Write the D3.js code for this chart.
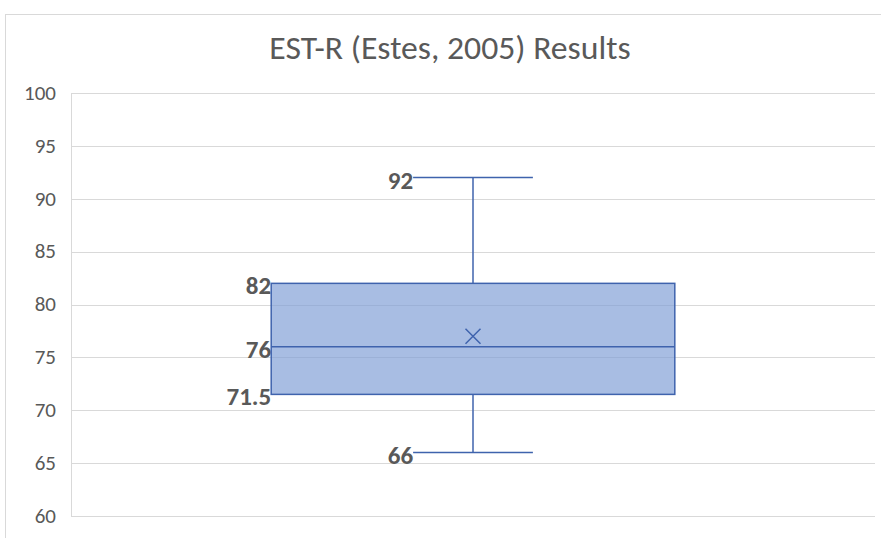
<!DOCTYPE html>
<html><head><meta charset="utf-8">
<script src="https://cdn.jsdelivr.net/npm/d3@7"></script>
<style>body{margin:0;background:#fff;} text{font-family:Carlito,Calibri,Lato,"Open Sans","Liberation Sans",sans-serif;}</style>
</head><body>
<svg id="c" width="881" height="538"></svg>
<script>
const categories = ["EST-R"];
const minValues = [66];
const q1Values = [71.5];
const medianValues = [76];
const q3Values = [82];
const maxValues = [92];
const meanValues = [77];
const yTicks = [60,65,70,75,80,85,90,95,100];

const FONT = 'Carlito,Calibri,Lato,"Open Sans","Liberation Sans",sans-serif';
const svg = d3.select("#c");
svg.append("rect").attr("x",5.5).attr("y",14.5).attr("width",900).attr("height",600)
  .attr("fill","#fff").attr("stroke","#d9d9d9").attr("stroke-width",1);

svg.append("text").attr("x",450).attr("y",59).attr("text-anchor","middle")
  .attr("font-size",33.7).attr("fill","#595959").text("EST-R (Estes, 2005) Results");

const m = {l:71, r:875, t:93, b:516};
const y = d3.scaleLinear().domain([60,100]).range([m.b,m.t]);
const x = d3.scaleBand().domain(categories).range([m.l,m.r]);

const g = svg.append("g");
g.selectAll("line.grid").data(yTicks).join("line")
  .attr("x1",m.l).attr("x2",m.r).attr("y1",d=>Math.round(y(d))+0.5).attr("y2",d=>Math.round(y(d))+0.5)
  .attr("stroke","#d9d9d9").attr("stroke-width",1);
g.append("line").attr("x1",m.l+0.5).attr("x2",m.l+0.5).attr("y1",m.t).attr("y2",m.b)
  .attr("stroke","#d9d9d9");

const yAxis = svg.append("g").attr("transform",`translate(${m.l},0)`)
  .call(d3.axisLeft(y).tickValues(yTicks).tickSize(0).tickPadding(15));
yAxis.select(".domain").remove();
yAxis.selectAll("text").attr("font-size",21).attr("fill","#595959").attr("dy","0.3em")
  .style("font-family",FONT);

const stroke = "#3f63ad";
const data = categories.map((c,i)=>({c, min:minValues[i], q1:q1Values[i], med:medianValues[i], q3:q3Values[i], max:maxValues[i], mean:meanValues[i]}));

const bw = x.bandwidth()*0.502;
const capW = x.bandwidth()*0.149;
data.forEach(d=>{
  const cx = x(d.c)+x.bandwidth()/2;
  const gg = svg.append("g");
  gg.append("line").attr("x1",cx).attr("x2",cx).attr("y1",y(d.max)).attr("y2",y(d.q3)).attr("stroke",stroke).attr("stroke-width",1.5);
  gg.append("line").attr("x1",cx).attr("x2",cx).attr("y1",y(d.q1)).attr("y2",y(d.min)).attr("stroke",stroke).attr("stroke-width",1.5);
  gg.append("line").attr("x1",cx-capW/2).attr("x2",cx+capW/2).attr("y1",y(d.max)).attr("y2",y(d.max)).attr("stroke",stroke).attr("stroke-width",1.5);
  gg.append("line").attr("x1",cx-capW/2).attr("x2",cx+capW/2).attr("y1",y(d.min)).attr("y2",y(d.min)).attr("stroke",stroke).attr("stroke-width",1.5);
  gg.append("rect").attr("x",cx-bw/2).attr("y",y(d.q3)).attr("width",bw).attr("height",y(d.q1)-y(d.q3))
    .attr("fill","#7f9dd6").attr("fill-opacity",0.68).attr("stroke",stroke).attr("stroke-width",1.5);
  gg.append("line").attr("x1",cx-bw/2).attr("x2",cx+bw/2).attr("y1",y(d.med)).attr("y2",y(d.med)).attr("stroke",stroke).attr("stroke-width",1.5);
  const my = y(d.mean), s=7.5;
  gg.append("path").attr("d",`M${cx-s},${my-s}L${cx+s},${my+s}M${cx-s},${my+s}L${cx+s},${my-s}`)
    .attr("stroke",stroke).attr("stroke-width",1.5).attr("fill","none");
  const lab = [
    {v:d.max, xr:cx-capW/2},
    {v:d.q3, xr:cx-bw/2},
    {v:d.med, xr:cx-bw/2},
    {v:d.q1, xr:cx-bw/2},
    {v:d.min, xr:cx-capW/2}
  ];
  gg.selectAll("text.lab").data(lab).join("text").attr("class","lab")
    .attr("x",l=>l.xr).attr("y",l=>y(l.v)+11).attr("text-anchor","end")
    .attr("font-size",25).attr("font-weight","bold").attr("fill","#595959")
    .text(l=>String(l.v));
});
</script>
</body></html>
